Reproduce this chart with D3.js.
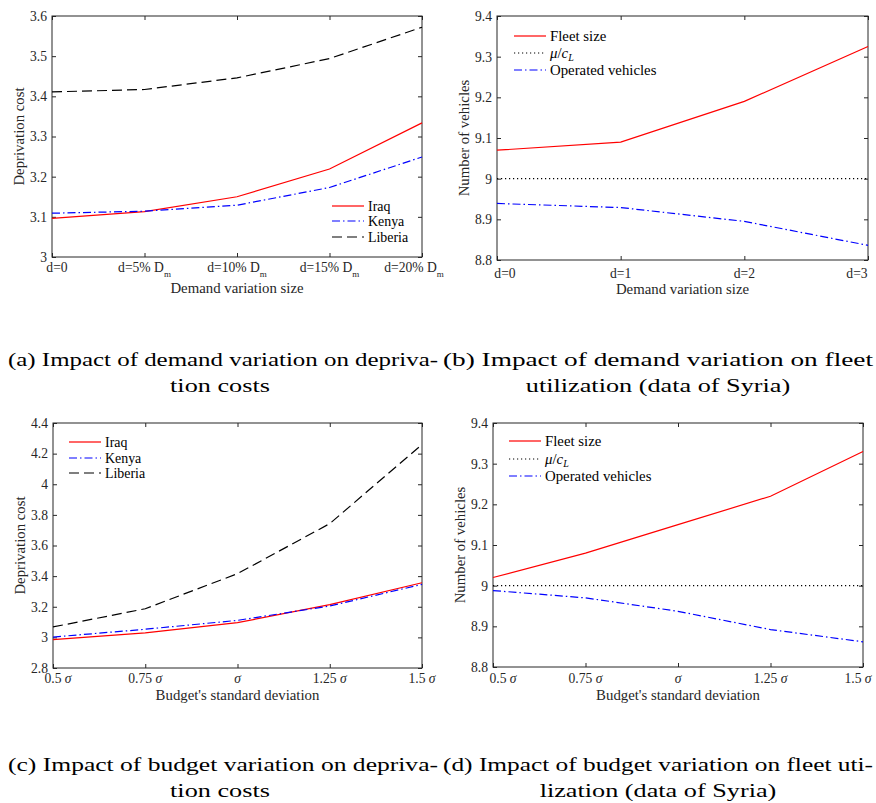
<!DOCTYPE html>
<html>
<head>
<meta charset="utf-8">
<script src="https://cdn.jsdelivr.net/npm/d3@7"></script>
<style>
  body { margin: 0; background: #fff; }
  svg { display: block; }
  svg text { font-family: "Liberation Serif", "DejaVu Serif", serif; }
</style>
</head>
<body>
<script>

// data
var demandTicks = ["d=0", "d=5% D", "d=10% D", "d=15% D", "d=20% D"];
var demandTickSub = ["", "m", "m", "m", "m"];
var fleetTicks = ["d=0", "d=1", "d=2", "d=3"];
var budgetTicks = ["0.5 ", "0.75 ", "", "1.25 ", "1.5 "];

var iraqDemand = [3.096, 3.113, 3.150, 3.219, 3.334];
var kenyaDemand = [3.109, 3.114, 3.129, 3.173, 3.249];
var liberiaDemand = [3.411, 3.417, 3.446, 3.494, 3.572];

var fleetDemand = [9.07, 9.09, 9.19, 9.325];
var muDemand = [9, 9, 9, 9];
var operatedDemand = [8.939, 8.929, 8.895, 8.836];

var iraqBudget = [2.985, 3.029, 3.096, 3.214, 3.357];
var kenyaBudget = [3.002, 3.053, 3.111, 3.205, 3.346];
var liberiaBudget = [3.068, 3.187, 3.416, 3.743, 4.259];

var fleetBudget = [9.02, 9.08, 9.15, 9.22, 9.33];
var muBudget = [9, 9, 9, 9, 9];
var operatedBudget = [8.988, 8.970, 8.937, 8.892, 8.862];

var costTicksA = [3, 3.1, 3.2, 3.3, 3.4, 3.5, 3.6];
var costTicksC = [2.8, 3, 3.2, 3.4, 3.6, 3.8, 4, 4.2, 4.4];
var vehicleTicks = [8.8, 8.9, 9, 9.1, 9.2, 9.3, 9.4];

var captions = [
  ["(a) Impact of demand variation on depriva-", "tion costs"],
  ["(b) Impact of demand variation on fleet", "utilization (data of Syria)"],
  ["(c) Impact of budget variation on depriva-", "tion costs"],
  ["(d) Impact of budget variation on fleet uti-", "lization (data of Syria)"]
];

var axisColor = "#262626";

var svg = d3.select("body").append("svg")
  .attr("width", 876).attr("height", 803);
svg.append("rect").attr("width", 876).attr("height", 803).attr("fill", "#fff");

var styles = {
  red: {color: "#ff0000", dash: null},
  blueDashDot: {color: "#0000ff", dash: "8,3,1.5,3"},
  blackDash: {color: "#000", dash: "10,5"},
  dotted: {color: "#000", dash: "1.2,2.8"}
};

function drawPanel(p) {
  var g = svg.append("g");
  var x = d3.scalePoint().domain(d3.range(p.n)).range([p.left, p.right]);
  var y = d3.scaleLinear().domain(p.yDomain).range([p.bottom, p.top]);

  // ticks on all four sides, pointing in
  g.append("g").attr("transform", "translate(0," + p.bottom + ")")
    .call(d3.axisBottom(x).tickSize(-4).tickSizeOuter(0).tickFormat(""))
    .call(function(s) { s.select(".domain").remove(); s.selectAll("line").attr("stroke", axisColor); });
  g.append("g").attr("transform", "translate(0," + p.top + ")")
    .call(d3.axisTop(x).tickSize(-4).tickSizeOuter(0).tickFormat(""))
    .call(function(s) { s.select(".domain").remove(); s.selectAll("line").attr("stroke", axisColor); });
  g.append("g").attr("transform", "translate(" + p.left + ",0)")
    .call(d3.axisLeft(y).tickValues(p.yTicks).tickSize(-4).tickSizeOuter(0)
      .tickFormat(function(d) { return String(+d.toFixed(1)); }))
    .call(function(s) {
      s.select(".domain").remove();
      s.selectAll("line").attr("stroke", axisColor);
      s.selectAll("text").attr("x", -5).attr("fill", axisColor)
        .attr("font-family", null).attr("font-size", "13.6px");
    });
  g.append("g").attr("transform", "translate(" + p.right + ",0)")
    .call(d3.axisRight(y).tickValues(p.yTicks).tickSize(-4).tickSizeOuter(0).tickFormat(""))
    .call(function(s) { s.select(".domain").remove(); s.selectAll("line").attr("stroke", axisColor); });

  g.append("rect")
    .attr("x", p.left).attr("y", p.top)
    .attr("width", p.right - p.left).attr("height", p.bottom - p.top)
    .attr("fill", "none").attr("stroke", axisColor).attr("stroke-width", 1);

  // x tick labels
  var xl = g.append("g").attr("font-size", "13.6px").attr("fill", axisColor);
  p.xLabels.forEach(function(lab, i) {
    var shift = i == 0 ? p.firstShift : (i == p.n - 1 ? p.lastShift : 0);
    var t = xl.append("text").attr("x", x(i) + shift).attr("y", p.bottom + p.tickDy)
      .attr("text-anchor", "middle");
    if (p.kind == "demand") {
      t.append("tspan").text(lab);
      if (demandTickSub[i]) {
        t.append("tspan").attr("dy", 5).attr("font-size", "9px").text(demandTickSub[i]);
      }
    } else if (p.kind == "budget") {
      t.append("tspan").text(lab);
      t.append("tspan").attr("font-style", "italic").text("\u03c3");
    } else {
      t.text(lab);
    }
  });

  // axis titles
  g.append("text")
    .attr("transform", "translate(" + (p.left - 28) + "," + ((p.top + p.bottom) / 2) + ") rotate(-90)")
    .attr("text-anchor", "middle").attr("font-size", "14.8px")
    .attr("fill", axisColor).text(p.yTitle);
  g.append("text")
    .attr("x", (p.left + p.right) / 2).attr("y", p.bottom + p.titleDy)
    .attr("text-anchor", "middle").attr("font-size", "14.8px")
    .attr("fill", axisColor).text(p.xTitle);

  // series
  var line = d3.line().x(function(d, i) { return x(i); }).y(function(d) { return y(d); });
  p.series.forEach(function(s) {
    var st = styles[s.style];
    g.append("path").datum(s.values)
      .attr("d", line).attr("fill", "none")
      .attr("stroke", st.color).attr("stroke-width", 1.2)
      .attr("stroke-dasharray", st.dash);
  });

  // legend, no box
  var lg = g.append("g").attr("font-size", p.legFont).attr("fill", "#000");
  p.series.forEach(function(s, i) {
    var st = styles[s.style];
    var ly = p.legY[i];
    lg.append("line").attr("x1", p.legX).attr("x2", p.legX + 32).attr("y1", ly).attr("y2", ly)
      .attr("stroke", st.color).attr("stroke-width", 1.2).attr("stroke-dasharray", st.dash);
    var t = lg.append("text").attr("x", p.legX + 36).attr("y", ly + 4.5);
    if (s.name == "mu") {
      t.append("tspan").attr("font-style", "italic").text("\u03bc");
      t.append("tspan").text("/");
      t.append("tspan").attr("font-style", "italic").text("c");
      t.append("tspan").attr("font-style", "italic").attr("font-size", "10px").attr("dy", 3).text("L");
    } else {
      t.text(s.name);
    }
  });
}

drawPanel({
  kind: "demand", n: 5, left: 52, right: 422, top: 16, bottom: 257,
  yDomain: [3, 3.6], yTicks: costTicksA, xLabels: demandTicks,
  firstShift: 5, lastShift: -8, tickDy: 15, titleDy: 36,
  yTitle: "Deprivation cost", xTitle: "Demand variation size",
  legX: 332, legY: [206, 221, 237], legFont: "13.9px",
  series: [
    {name: "Iraq", values: iraqDemand, style: "red"},
    {name: "Kenya", values: kenyaDemand, style: "blueDashDot"},
    {name: "Liberia", values: liberiaDemand, style: "blackDash"}
  ]
});

drawPanel({
  kind: "plain", n: 4, left: 497, right: 868, top: 16, bottom: 260,
  yDomain: [8.8, 9.4], yTicks: vehicleTicks, xLabels: fleetTicks,
  firstShift: 8, lastShift: -11, tickDy: 18, titleDy: 34,
  yTitle: "Number of vehicles", xTitle: "Demand variation size",
  legX: 514, legY: [36, 53, 70], legFont: "14.8px",
  series: [
    {name: "Fleet size", values: fleetDemand, style: "red"},
    {name: "mu", values: muDemand, style: "dotted"},
    {name: "Operated vehicles", values: operatedDemand, style: "blueDashDot"}
  ]
});

drawPanel({
  kind: "budget", n: 5, left: 53, right: 422, top: 423, bottom: 668,
  yDomain: [2.8, 4.4], yTicks: costTicksC, xLabels: budgetTicks,
  firstShift: 5, lastShift: 0, tickDy: 15, titleDy: 32,
  yTitle: "Deprivation cost", xTitle: "Budget's standard deviation",
  legX: 69, legY: [442, 458, 473], legFont: "13.9px",
  series: [
    {name: "Iraq", values: iraqBudget, style: "red"},
    {name: "Kenya", values: kenyaBudget, style: "blueDashDot"},
    {name: "Liberia", values: liberiaBudget, style: "blackDash"}
  ]
});

drawPanel({
  kind: "budget", n: 5, left: 493, right: 863, top: 423, bottom: 667,
  yDomain: [8.8, 9.4], yTicks: vehicleTicks, xLabels: budgetTicks,
  firstShift: 10, lastShift: -5, tickDy: 16, titleDy: 33,
  yTitle: "Number of vehicles", xTitle: "Budget's standard deviation",
  legX: 509, legY: [441, 459, 476], legFont: "14.8px",
  series: [
    {name: "Fleet size", values: fleetBudget, style: "red"},
    {name: "mu", values: muBudget, style: "dotted"},
    {name: "Operated vehicles", values: operatedBudget, style: "blueDashDot"}
  ]
});

// sub-figure captions (Computer Modern is wider than Times, so stretch glyphs)
var capPos = [
  {x: 8, cx: 220, y: 366},
  {x: 443, cx: 658, y: 366},
  {x: 8, cx: 220, y: 771},
  {x: 443, cx: 658, y: 771}
];
var capStretch = 1.38;
captions.forEach(function(c, i) {
  var pos = capPos[i];
  var cg = svg.append("g").attr("font-size", "19px").attr("fill", "#000");
  var t1 = cg.append("text").attr("x", pos.x).attr("y", pos.y).text(c[0]);
  t1.attr("textLength", 430).attr("lengthAdjust", "spacingAndGlyphs");
  var t2 = cg.append("text").attr("y", pos.y + 25.5).text(c[1]);
  var w2 = t2.node().getComputedTextLength() * capStretch;
  t2.attr("x", pos.cx - w2 / 2).attr("textLength", w2).attr("lengthAdjust", "spacingAndGlyphs");
});
</script>
</body>
</html>
